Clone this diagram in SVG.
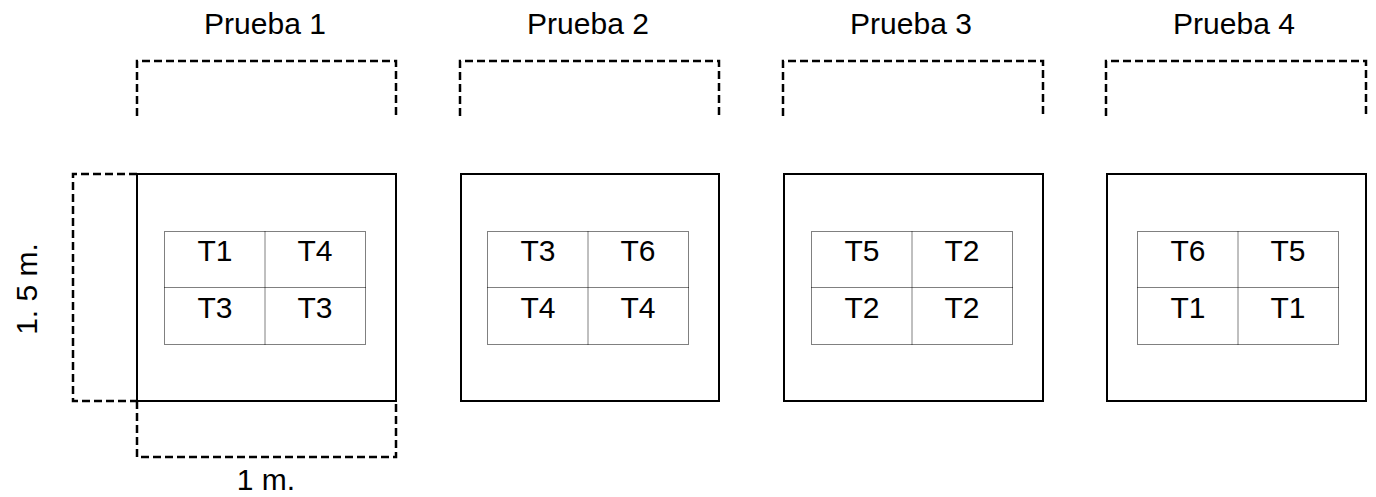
<svg xmlns="http://www.w3.org/2000/svg" width="1376" height="497" viewBox="0 0 1376 497">
<style>
  text { font-family: "Liberation Sans", Arial, sans-serif; fill: #000; }
  .title { font-size: 30px; text-anchor: middle; }
  .lbl { font-size: 30px; text-anchor: middle; }
  .plot { fill: none; stroke: #000; stroke-width: 2; }
  .dash { fill: none; stroke: #000; stroke-width: 2.5; stroke-dasharray: 8 4; }
  .grid { fill: none; stroke: #000; stroke-width: 1; stroke-dasharray: 1 1; }
</style>
<rect width="1376" height="497" fill="#fff"/>
<g id="dimensions">
  <path class="dash" d="M137,116 V61 H396 V116"/>
  <path class="dash" d="M137,174 H73 V401 H137"/>
  <path class="dash" d="M137,401 V457 H396 V401"/>
  <text class="lbl" transform="translate(37,289) rotate(-90)">1. 5 m.</text>
  <text class="lbl" x="266" y="490">1 m.</text>
</g>
<g id="prueba1">
  <text class="title" x="265" y="34">Prueba 1</text>
  <rect class="plot" x="137" y="174" width="259" height="227"/>
  <rect class="grid" x="164.5" y="231.5" width="201" height="113"/>
  <path class="grid" d="M265,231.5 V344.5 M164.5,287.5 H365.5"/>
  <text class="lbl" x="215" y="261">T1</text>
  <text class="lbl" x="315" y="261">T4</text>
  <text class="lbl" x="215" y="318">T3</text>
  <text class="lbl" x="315" y="318">T3</text>
</g>
<g id="prueba2">
  <path class="dash" d="M460,116 V61 H719 V116"/>
  <text class="title" x="588" y="34">Prueba 2</text>
  <rect class="plot" x="461" y="174" width="258" height="227"/>
  <rect class="grid" x="487.5" y="231.5" width="201" height="113"/>
  <path class="grid" d="M588,231.5 V344.5 M487.5,287.5 H688.5"/>
  <text class="lbl" x="538" y="261">T3</text>
  <text class="lbl" x="638" y="261">T6</text>
  <text class="lbl" x="538" y="318">T4</text>
  <text class="lbl" x="638" y="318">T4</text>
</g>
<g id="prueba3">
  <path class="dash" d="M783,116 V61 H1043 V116"/>
  <text class="title" x="911" y="34">Prueba 3</text>
  <rect class="plot" x="784" y="174" width="259" height="227"/>
  <rect class="grid" x="811.5" y="231.5" width="201" height="113"/>
  <path class="grid" d="M912,231.5 V344.5 M811.5,287.5 H1012.5"/>
  <text class="lbl" x="862" y="261">T5</text>
  <text class="lbl" x="962" y="261">T2</text>
  <text class="lbl" x="862" y="318">T2</text>
  <text class="lbl" x="962" y="318">T2</text>
</g>
<g id="prueba4">
  <path class="dash" d="M1106,116 V61 H1366 V116"/>
  <text class="title" x="1234" y="34">Prueba 4</text>
  <rect class="plot" x="1107" y="174" width="259" height="227"/>
  <rect class="grid" x="1137.5" y="231.5" width="201" height="113"/>
  <path class="grid" d="M1238,231.5 V344.5 M1137.5,287.5 H1338.5"/>
  <text class="lbl" x="1188" y="261">T6</text>
  <text class="lbl" x="1288" y="261">T5</text>
  <text class="lbl" x="1188" y="318">T1</text>
  <text class="lbl" x="1288" y="318">T1</text>
</g>
</svg>
